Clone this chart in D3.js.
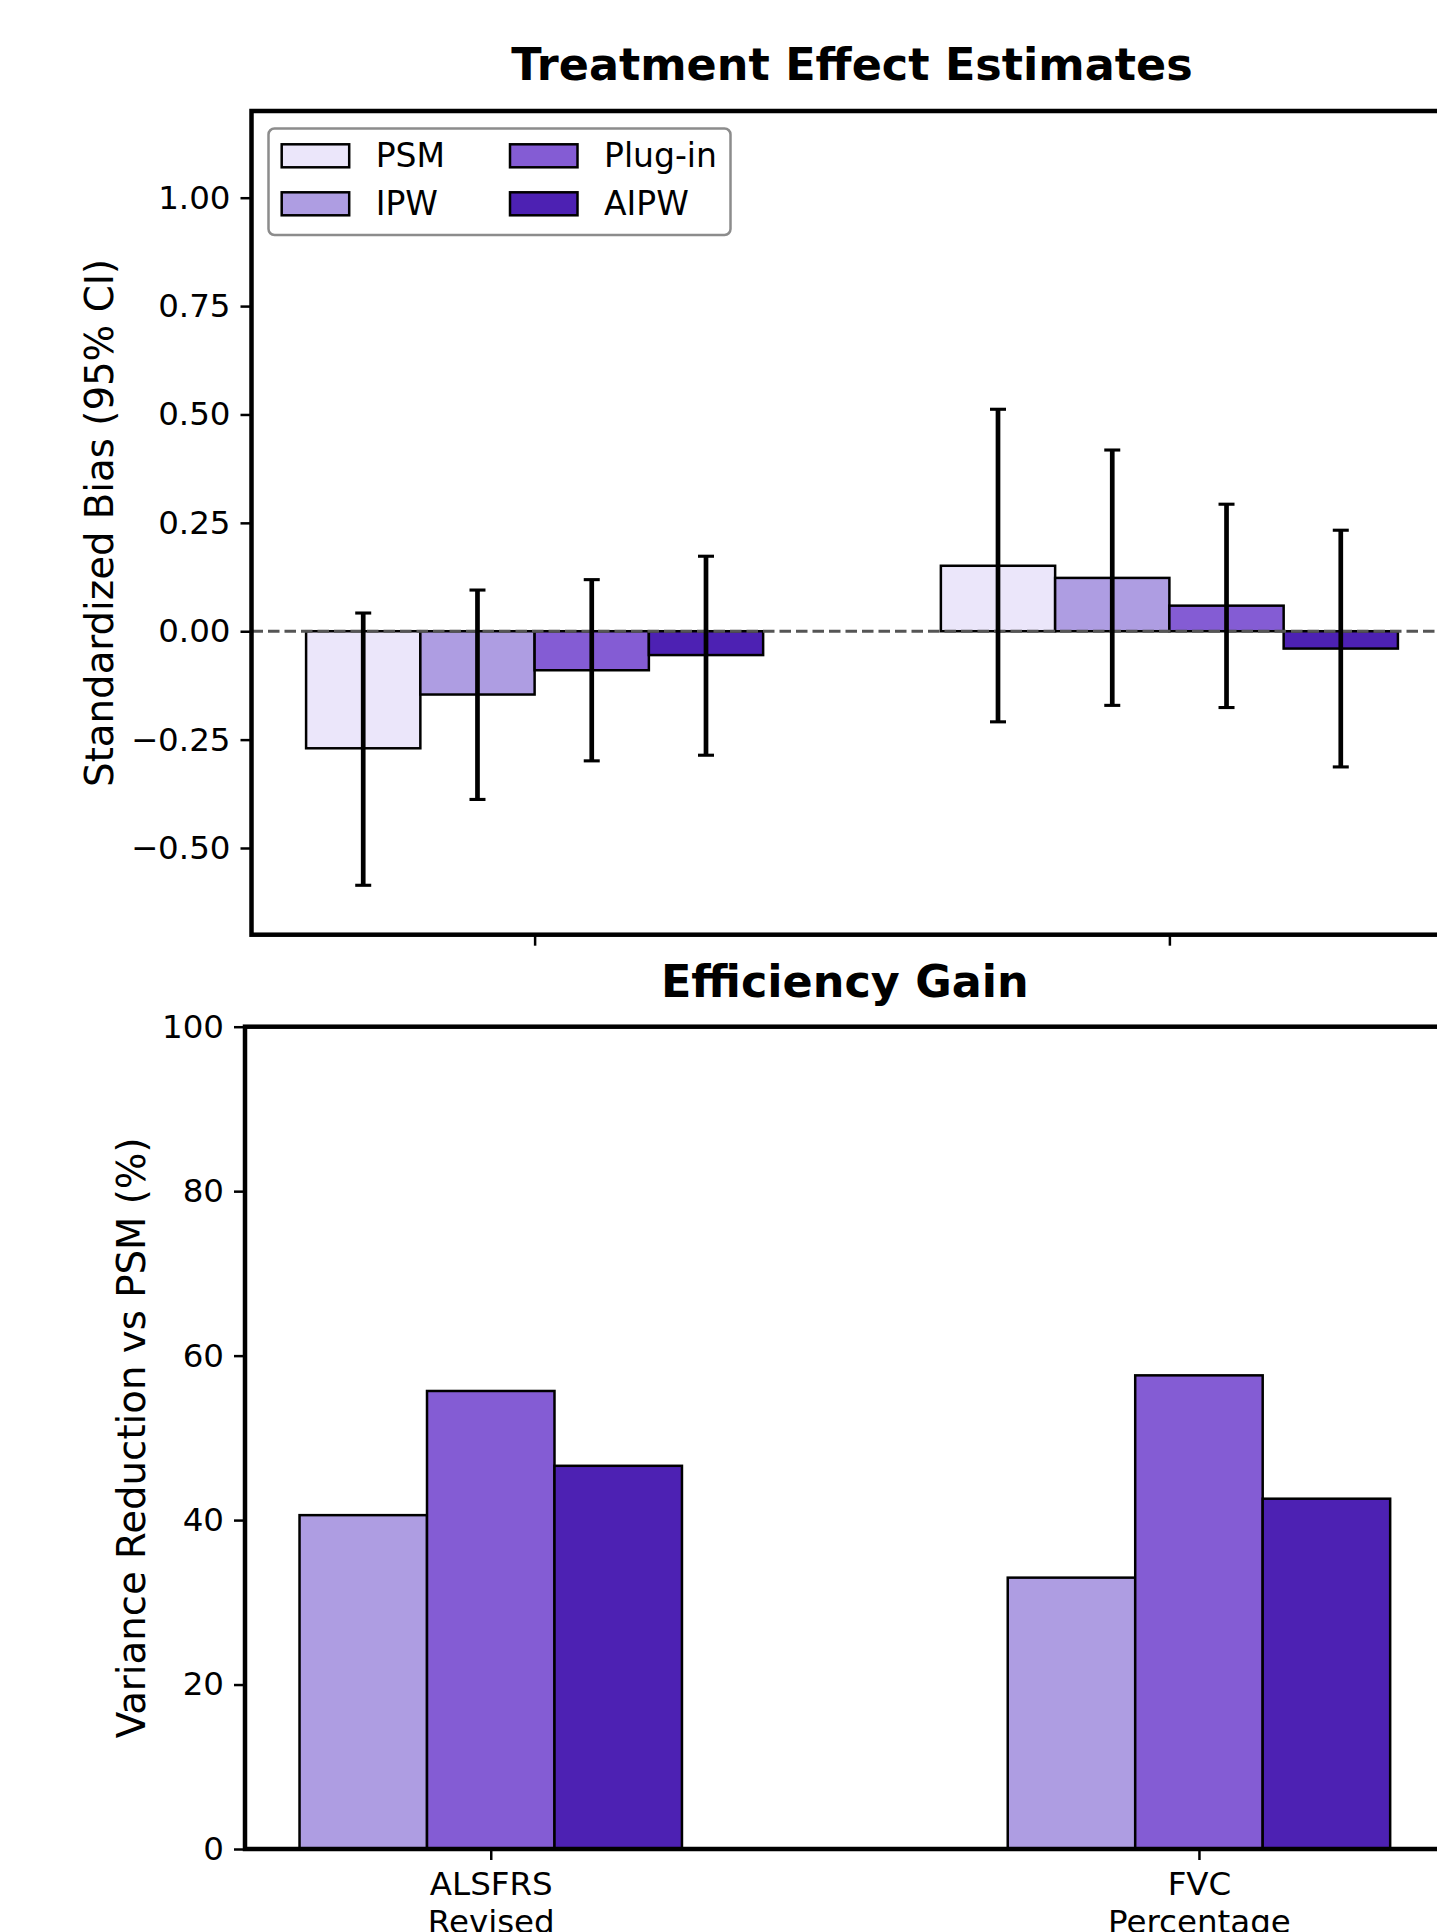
<!DOCTYPE html>
<html>
<head>
<meta charset="utf-8">
<script src="https://cdn.jsdelivr.net/npm/d3@7"></script>
<style>
  html, body { margin: 0; padding: 0; background: #fff; }
  svg { display: block; font-family: "DejaVu Sans", sans-serif; }
</style>
</head>
<body>
<svg id="chart" width="1437" height="1932"></svg>
<script>
// ---------------- DATA ----------------
const outcomes = ["ALSFRS\nRevised", "FVC\nPercentage"];
const methods = ["PSM", "IPW", "Plug-in", "AIPW"];
const methodColors = ["#ebe6fa", "#ae9de2", "#845cd4", "#4d21b3"];

// Standardized bias estimates per method per outcome
const biasPSM    = [-0.270, 0.151];
const biasIPW    = [-0.146, 0.123];
const biasPlugin = [-0.090, 0.059];
const biasAIPW   = [-0.055, -0.040];

// 95% CI lower / upper
const ciLowPSM    = [-0.586, -0.209];
const ciHighPSM   = [0.042, 0.512];
const ciLowIPW    = [-0.388, -0.171];
const ciHighIPW   = [0.095, 0.418];
const ciLowPlugin = [-0.299, -0.176];
const ciHighPlugin= [0.119, 0.293];
const ciLowAIPW   = [-0.286, -0.313];
const ciHighAIPW  = [0.173, 0.233];

// Efficiency gain: variance reduction vs PSM (%)
const effMethods = ["IPW", "Plug-in", "AIPW"];
const effIPW    = [40.6, 33.0];
const effPlugin = [55.7, 57.6];
const effAIPW   = [46.6, 42.6];

const biasTicks = [-0.50, -0.25, 0.00, 0.25, 0.50, 0.75, 1.00];
const effTicks = [0, 20, 40, 60, 80, 100];

// ---------------- LAYOUT ----------------
const svg = d3.select("#chart");
const FS = 32.5;        // tick font size
const LEG_FS = 33;      // legend font size
const LABEL_FS = 38.7;  // axis label
const TITLE_FS = 44.5;  // title
const BAR_W = 0.18;

const boxTop = { left: 251.5, right: 1452.5, top: 111, bottom: 934.7 };
const boxBot = { left: 245, right: 1444.7, top: 1026.7, bottom: 1849 };

const biasSeries = methods.map((m, i) => ({
  name: m, color: methodColors[i],
  values: [biasPSM, biasIPW, biasPlugin, biasAIPW][i],
  lo: [ciLowPSM, ciLowIPW, ciLowPlugin, ciLowAIPW][i],
  hi: [ciHighPSM, ciHighIPW, ciHighPlugin, ciHighAIPW][i]
}));
const effSeries = effMethods.map((m, i) => ({
  name: m, color: methodColors[i + 1],
  values: [effIPW, effPlugin, effAIPW][i]
}));

// ---------- Panel 1: Treatment Effect Estimates ----------
(function() {
  const B = boxTop;
  const nS = biasSeries.length;
  const xMin = -(nS / 2) * BAR_W, xMax = outcomes.length - 1 + (nS / 2) * BAR_W;
  const m = (xMax - xMin) * 0.05;
  const x = d3.scaleLinear().domain([xMin - m, xMax + m]).range([B.left, B.right]);
  const y = d3.scaleLinear().domain([-0.7, 1.2]).range([B.bottom, B.top]);
  const g = svg.append("g");

  biasSeries.forEach((s, si) => {
    const off = (si - (nS - 1) / 2) * BAR_W;
    g.selectAll(null).data(s.values).enter().append("rect")
      .attr("x", (d, i) => x(i + off - BAR_W / 2))
      .attr("width", (d, i) => x(i + off + BAR_W / 2) - x(i + off - BAR_W / 2))
      .attr("y", d => y(Math.max(0, d)))
      .attr("height", d => Math.abs(y(0) - y(d)))
      .attr("fill", s.color)
      .attr("stroke", "#000")
      .attr("stroke-width", 2.5);
  });

  g.append("line")
    .attr("x1", B.left).attr("x2", B.right)
    .attr("y1", y(0)).attr("y2", y(0))
    .attr("stroke", "#555").attr("stroke-width", 3)
    .attr("stroke-dasharray", "11.5,5");

  biasSeries.forEach((s, si) => {
    const off = (si - (nS - 1) / 2) * BAR_W;
    s.values.forEach((v, i) => {
      const cx = x(i + off);
      g.append("line").attr("x1", cx).attr("x2", cx)
        .attr("y1", y(s.lo[i])).attr("y2", y(s.hi[i]))
        .attr("stroke", "#000").attr("stroke-width", 4.7);
      [s.lo[i], s.hi[i]].forEach(c => {
        g.append("line").attr("x1", cx - 8).attr("x2", cx + 8)
          .attr("y1", y(c)).attr("y2", y(c))
          .attr("stroke", "#000").attr("stroke-width", 3.1);
      });
    });
  });

  const yAxis = d3.axisLeft(y).tickValues(biasTicks).tickFormat(d3.format(".2f"))
    .tickSize(11).tickPadding(10);
  const ya = g.append("g").attr("transform", `translate(${B.left},0)`).call(yAxis);
  ya.select(".domain").remove();
  ya.selectAll(".tick line").attr("stroke", "#000").attr("stroke-width", 2.5);
  ya.selectAll(".tick text").attr("font-size", FS).attr("fill", "#000")
    .attr("font-family", "DejaVu Sans");

  const xa = g.append("g").attr("transform", `translate(0,${B.bottom})`)
    .call(d3.axisBottom(x).tickValues(d3.range(outcomes.length)).tickFormat("").tickSize(11));
  xa.select(".domain").remove();
  xa.selectAll(".tick line").attr("stroke", "#000").attr("stroke-width", 2.5);

  g.append("rect").attr("x", B.left).attr("y", B.top)
    .attr("width", B.right - B.left).attr("height", B.bottom - B.top)
    .attr("fill", "none").attr("stroke", "#000").attr("stroke-width", 4.5);

  g.append("text").attr("x", (B.left + B.right) / 2).attr("y", B.top - 31)
    .attr("text-anchor", "middle").attr("font-size", TITLE_FS).attr("font-weight", "bold")
    .text("Treatment Effect Estimates");

  g.append("text")
    .attr("transform", `translate(113,${(B.top + B.bottom) / 2}) rotate(-90)`)
    .attr("text-anchor", "middle").attr("font-size", LABEL_FS)
    .text("Standardized Bias (95% CI)");

  const lg = g.append("g");
  lg.append("rect").attr("x", 268.5).attr("y", 128.5).attr("width", 462).attr("height", 106.5)
    .attr("rx", 6).attr("ry", 6)
    .attr("fill", "#fff").attr("fill-opacity", 0.8)
    .attr("stroke", "#8c8c8c").attr("stroke-width", 2.5);
  const colX = [281.7, 510];
  const rowY = [144.3, 192.3];
  biasSeries.forEach((s, si) => {
    const c = Math.floor(si / 2), r = si % 2;
    lg.append("rect").attr("x", colX[c]).attr("y", rowY[r]).attr("width", 67.5).attr("height", 23)
      .attr("fill", s.color).attr("stroke", "#000").attr("stroke-width", 2.5);
    lg.append("text").attr("x", colX[c] + 94).attr("y", rowY[r] + 23)
      .attr("font-size", LEG_FS).text(s.name);
  });
})();

// ---------- Panel 2: Efficiency Gain ----------
(function() {
  const B = boxBot;
  const nS = effSeries.length;
  const xMin = -(nS / 2) * BAR_W, xMax = outcomes.length - 1 + (nS / 2) * BAR_W;
  const m = (xMax - xMin) * 0.05;
  const x = d3.scaleLinear().domain([xMin - m, xMax + m]).range([B.left, B.right]);
  const y = d3.scaleLinear().domain([0, 100]).range([B.bottom, B.top]);
  const g = svg.append("g");

  effSeries.forEach((s, si) => {
    const off = (si - (nS - 1) / 2) * BAR_W;
    g.selectAll(null).data(s.values).enter().append("rect")
      .attr("x", (d, i) => x(i + off - BAR_W / 2))
      .attr("width", (d, i) => x(i + off + BAR_W / 2) - x(i + off - BAR_W / 2))
      .attr("y", d => y(d))
      .attr("height", d => y(0) - y(d))
      .attr("fill", s.color)
      .attr("stroke", "#000")
      .attr("stroke-width", 2.5);
  });

  const yAxis = d3.axisLeft(y).tickValues(effTicks).tickFormat(d3.format("d"))
    .tickSize(11).tickPadding(10);
  const ya = g.append("g").attr("transform", `translate(${B.left},0)`).call(yAxis);
  ya.select(".domain").remove();
  ya.selectAll(".tick line").attr("stroke", "#000").attr("stroke-width", 2.5);
  ya.selectAll(".tick text").attr("font-size", FS).attr("fill", "#000")
    .attr("font-family", "DejaVu Sans");

  const xa = g.append("g").attr("transform", `translate(0,${B.bottom})`)
    .call(d3.axisBottom(x).tickValues(d3.range(outcomes.length)).tickFormat("").tickSize(11));
  xa.select(".domain").remove();
  xa.selectAll(".tick line").attr("stroke", "#000").attr("stroke-width", 2.5);
  xa.selectAll(".tick").each(function(d) {
    const lines = outcomes[d].split("\n");
    const t = d3.select(this).append("text")
      .attr("text-anchor", "middle").attr("font-size", FS).attr("fill", "#000")
      .attr("font-family", "DejaVu Sans");
    lines.forEach((ln, k) => {
      t.append("tspan").attr("x", 0).attr("y", 46 + k * 38).text(ln);
    });
  });

  g.append("rect").attr("x", B.left).attr("y", B.top)
    .attr("width", B.right - B.left).attr("height", B.bottom - B.top)
    .attr("fill", "none").attr("stroke", "#000").attr("stroke-width", 4.5);

  g.append("text").attr("x", (B.left + B.right) / 2).attr("y", B.top - 30)
    .attr("text-anchor", "middle").attr("font-size", TITLE_FS).attr("font-weight", "bold")
    .text("Efficiency Gain");

  g.append("text")
    .attr("transform", `translate(145,${(B.top + B.bottom) / 2}) rotate(-90)`)
    .attr("text-anchor", "middle").attr("font-size", LABEL_FS)
    .text("Variance Reduction vs PSM (%)");
})();
</script>
</body>
</html>
